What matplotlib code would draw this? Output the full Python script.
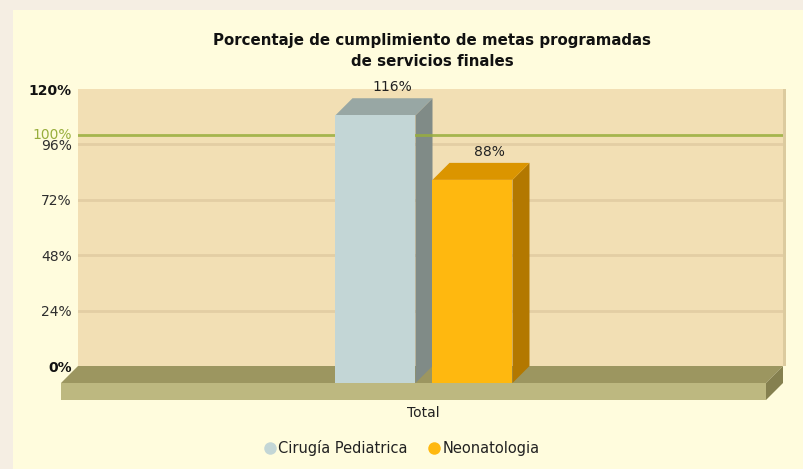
import matplotlib
matplotlib.use('Agg')
import matplotlib.pyplot as plt
from matplotlib.patches import Polygon, Rectangle
from matplotlib.lines import Line2D

# Data
categories = ['Total']
series = ['Cirugía Pediatrica', 'Neonatologia']
values = [116, 88]
trend_value = 100
trend_label = '100%'
yticks = [0, 24, 48, 72, 96, 120]
ytick_labels = ['0%', '24%', '48%', '72%', '96%', '120%']

# Colours: front, top, side of each bar
front_colors = ['#C3D6D6', '#FFB80F']
top_colors = ['#98A7A4', '#DB9500']
side_colors = ['#808B87', '#B37800']

W, H = 804, 469
fig = plt.figure(figsize=(W / 100, H / 100), dpi=100)
fig.patch.set_facecolor('#F5EEE3')
fig.patches.append(Rectangle((13 / W, 0), 1, 1 - 10 / H, transform=fig.transFigure,
                             facecolor='#FFFCDD', edgecolor='none', zorder=-1))

# back wall of the plot
left_px, right_px, top_px, bottom_px = 78, 783, 89, 366
ax = fig.add_axes([left_px / W, 1 - bottom_px / H, (right_px - left_px) / W, (bottom_px - top_px) / H])
ax.set_zorder(1)
wall_w = right_px - left_px
ax.set_xlim(0, wall_w)
ax.set_ylim(0, 120)
ax.set_facecolor('#F2DFB4')
for s in ax.spines.values():
    s.set_visible(False)

depth = 17  # pixels
ddx = depth
ddy = depth * 120 / (bottom_px - top_px)

ax.set_xticks([])
ax.set_yticks(yticks)
ax.set_yticklabels(ytick_labels)
ax.tick_params(axis='y', length=0, pad=4.5, labelsize=10, labelcolor='#2E2E2E')
for lab, v in zip(ax.get_yticklabels(), yticks):
    if v in (0, 120):
        lab.set_fontweight('bold')
        lab.set_color('#111111')

# grid lines on the wall
for v in yticks[1:-1]:
    ax.axhline(v, color='#E3CEA4', lw=2, zorder=1)

# right edge of wall
ax.add_patch(Rectangle((wall_w, 0), 3, 120, facecolor='#DCCB9F', edgecolor='none',
                       clip_on=False, zorder=1))

# floor
floor_top = Polygon([(0, 0), (wall_w, 0), (wall_w - ddx, -ddy), (-ddx, -ddy)], closed=True,
                    facecolor='#9C9660', edgecolor='none', clip_on=False, zorder=2)
floor_front = Polygon([(-ddx, -ddy), (wall_w - ddx, -ddy), (wall_w - ddx, -2 * ddy), (-ddx, -2 * ddy)],
                      closed=True, facecolor='#BDB880', edgecolor='none', clip_on=False, zorder=2)
floor_side = Polygon([(wall_w - ddx, -ddy), (wall_w, 0), (wall_w, -ddy), (wall_w - ddx, -2 * ddy)],
                     closed=True, facecolor='#85804F', edgecolor='none', clip_on=False, zorder=2)
for p in (floor_top, floor_front, floor_side):
    ax.add_patch(p)

# bars
group_center = 363
bar_w = 80
gap = 17
start = group_center - (len(series) * bar_w + (len(series) - 1) * gap) / 2
for i, (name, val) in enumerate(zip(series, values)):
    x0 = start + i * (bar_w + gap)
    x1 = x0 + bar_w
    side = Polygon([(x1 - ddx, -ddy), (x1, 0), (x1, val), (x1 - ddx, val - ddy)], closed=True,
                   facecolor=side_colors[i], edgecolor='none', clip_on=False, zorder=3)
    top = Polygon([(x0 - ddx, val - ddy), (x1 - ddx, val - ddy), (x1, val), (x0, val)], closed=True,
                  facecolor=top_colors[i], edgecolor='none', clip_on=False, zorder=3)
    front = Rectangle((x0 - ddx, -ddy), bar_w, val, facecolor=front_colors[i], edgecolor='none',
                      clip_on=False, zorder=5)
    ax.add_patch(side)
    ax.add_patch(top)
    ax.add_patch(front)
    ax.annotate(f'{val}%', xy=(x0 + bar_w / 2, val), xytext=(0, 4), textcoords='offset pixels',
                ha='center', va='bottom', fontsize=10, color='#222222', zorder=6)

# trend line
ax.axhline(trend_value, color='#98AE3C', lw=2, alpha=0.85, zorder=4)
ax.annotate(trend_label, xy=(0, trend_value), xytext=(-6, 0), textcoords='offset pixels',
            ha='right', va='center', fontsize=10, color='#98AE3C', annotation_clip=False)

# category label
ax.annotate(categories[0], xy=((wall_w - ddx) / 2 - ddx + 18, -2 * ddy), xytext=(0, -13),
            textcoords='offset pixels', ha='center', va='center', fontsize=10, color='#222222',
            annotation_clip=False)

# title
fig.text(432 / W, 1 - 40 / H, 'Porcentaje de cumplimiento de metas programadas', ha='center',
         va='center', fontsize=10.8, fontweight='bold', color='#111111')
fig.text(432 / W, 1 - 61 / H, 'de servicios finales', ha='center', va='center', fontsize=10.8,
         fontweight='bold', color='#111111')

# legend
handles = [Line2D([], [], marker='o', linestyle='none', markersize=9, markerfacecolor=c,
                  markeredgecolor='none') for c in front_colors]
fig.legend(handles, series, loc='center', bbox_to_anchor=(402 / W, 1 - 448 / H), ncol=2,
           frameon=False, fontsize=10.5, handlelength=0.7, handletextpad=0.2, columnspacing=1.5,
           labelcolor='#222222')

fig.savefig('out.png', dpi=100, facecolor=fig.get_facecolor())
